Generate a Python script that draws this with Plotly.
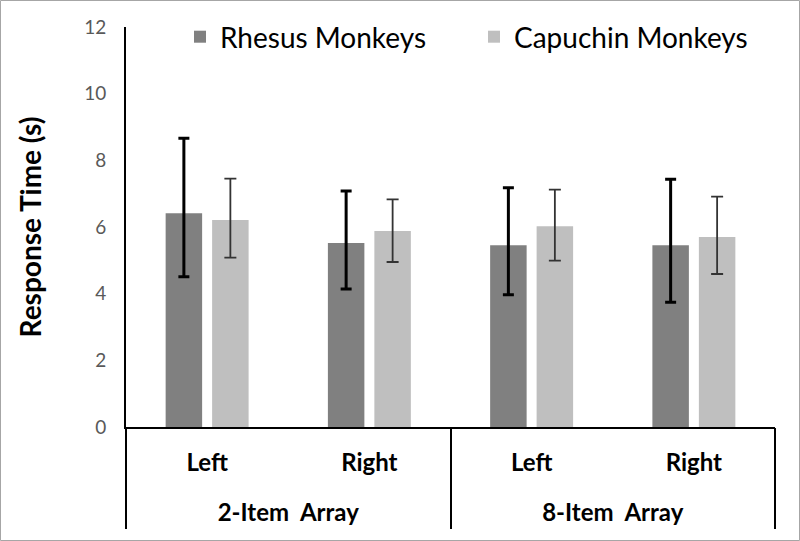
import plotly.graph_objects as go

# ---- data ----
groups = ["2-Item\u00a0 Array", "2-Item\u00a0 Array", "8-Item\u00a0 Array", "8-Item\u00a0 Array"]
sides = ["Left", "Right", "Left", "Right"]

rhesus = [6.41, 5.52, 5.45, 5.45]
rhesus_err_plus = [2.25, 1.56, 1.73, 1.98]
rhesus_err_minus = [1.90, 1.38, 1.48, 1.71]

capuchin = [6.21, 5.88, 6.02, 5.70]
capuchin_err_plus = [1.24, 0.95, 1.10, 1.21]
capuchin_err_minus = [1.13, 0.93, 1.03, 1.11]

y_ticks = [0, 2, 4, 6, 8, 10, 12]

# ---- category positions (index based) ----
pos = list(range(len(sides)))
group_names = list(dict.fromkeys(groups))
group_centers = [sum(p for p, g in zip(pos, groups) if g == name) /
                 groups.count(name) for name in group_names]
group_bounds = [pos[0] - 0.5] + [p + 0.5 for p, g, gn in
                                 zip(pos[:-1], groups[:-1], groups[1:]) if g != gn] + [pos[-1] + 0.5]
x_range = [pos[0] - 0.5, pos[-1] + 0.5]

# ---- layout params ----
W, H = 800, 541
ML, MR, MT, MB = 126, 25, 27, 114
FONT = "Lato, 'Open Sans', sans-serif"

fig = go.Figure()
fig.add_trace(go.Bar(
    name="Rhesus Monkeys", x=pos, y=rhesus,
    marker=dict(color="#808080", line=dict(width=0)),
    error_y=dict(type="data", symmetric=False, array=rhesus_err_plus,
                 arrayminus=rhesus_err_minus, color="#000000", thickness=3, width=5.5),
))
fig.add_trace(go.Bar(
    name="Capuchin Monkeys", x=pos, y=capuchin,
    marker=dict(color="#bfbfbf", line=dict(width=0)),
    error_y=dict(type="data", symmetric=False, array=capuchin_err_plus,
                 arrayminus=capuchin_err_minus, color="#333333", thickness=1.8, width=6),
))
# empty helper traces so the overlay axes (group labels, dividers) are drawn
fig.add_trace(go.Scatter(x=[], y=[], xaxis="x2", showlegend=False, hoverinfo="skip"))
fig.add_trace(go.Scatter(x=[], y=[], xaxis="x3", showlegend=False, hoverinfo="skip"))

pw = W - ML - MR
ph = H - MT - MB
bold_tick = dict(size=24, color="#000000", family=FONT, weight="bold")
fig.update_layout(
    width=W, height=H,
    margin=dict(l=ML, r=MR, t=MT, b=MB, autoexpand=False),
    paper_bgcolor="white", plot_bgcolor="white",
    barmode="group", bargap=0.427, bargroupgap=0.215,
    font=dict(family=FONT, color="#000000"),
    showlegend=True,
    legend=dict(orientation="h", x=(180 - ML) / pw, xanchor="left",
                y=(H - MB - 37) / ph, yanchor="middle",
                font=dict(size=28, color="#000000"), entrywidth=249,
                bgcolor="rgba(0,0,0,0)", borderwidth=0),
    xaxis=dict(
        range=x_range, tickvals=pos, ticktext=sides,
        showline=True, linecolor="#000000", linewidth=2,
        showgrid=False, zeroline=False, ticks="", ticklabelstandoff=13,
        tickfont=bold_tick, automargin=False, fixedrange=True,
    ),
    xaxis2=dict(
        overlaying="x", anchor="y", side="bottom", range=x_range,
        tickvals=group_centers, ticktext=group_names,
        showline=False, showgrid=False, zeroline=False, ticks="",
        ticklabelstandoff=69, tickfont=bold_tick, automargin=False, fixedrange=True,
    ),
    xaxis3=dict(
        overlaying="x", anchor="y", side="bottom", range=x_range,
        tickvals=group_bounds, showticklabels=False,
        showline=False, showgrid=False, zeroline=False,
        ticks="outside", ticklen=101, tickwidth=2, tickcolor="#000000",
        automargin=False, fixedrange=True,
    ),
    yaxis=dict(
        range=[0, 12], tickvals=y_ticks, showline=True, linecolor="#000000",
        linewidth=2, showgrid=False, zeroline=False, ticks="",
        ticklabelstandoff=14,
        tickfont=dict(size=19, color="#595959"),
        title=dict(text="<b>Response Time (s)</b>", font=dict(size=28, color="#000000"),
                   standoff=34),
        automargin=False, fixedrange=True,
    ),
    shapes=[dict(type="rect", xref="paper", yref="paper",
                 x0=-(ML - 0.5) / pw, x1=1 + (MR - 0.5) / pw,
                 y0=-(MB - 0.5) / ph, y1=1 + (MT - 0.5) / ph,
                 line=dict(color="#a6a6a6", width=1), fillcolor="rgba(0,0,0,0)",
                 layer="below")],
)

fig.write_html("out.html", config={"displayModeBar": False},
               post_script="document.body.style.margin='0';document.body.style.overflow='hidden';")
